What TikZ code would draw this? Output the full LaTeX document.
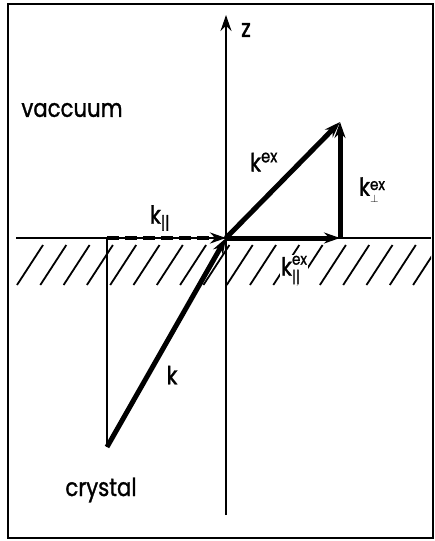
\documentclass[tikz,border=0pt]{standalone}
\usepackage{fontspec}
\setmainfont{Poppins}[FakeStretch=0.85, FakeBold=1.2]
\usetikzlibrary{arrows.meta}
\newcommand{\kvec}[2]{k\raisebox{-7pt}{\fontsize{16}{16}\selectfont\shortstack[l]{#1\\[2pt]#2}}}
\begin{document}
\begin{tikzpicture}[>={Stealth[length=16pt,width=11pt]}, x=1pt, y=-1pt, font=\fontsize{25}{30}\selectfont]
\useasboundingbox (0,0) rectangle (435,541);
\draw[line width=2pt] (8,4) rectangle (433,538);
\coordinate (O) at (226,238);
\coordinate (zt) at (226,15);
\coordinate (zb) at (226,515);
\coordinate (L) at (16,238);
\coordinate (R) at (431,238);
\coordinate (A) at (107,238);
\coordinate (B) at (107,447);
\coordinate (P) at (340,238);
\coordinate (Q) at (340,122);
% hatching below the surface
\begin{scope}
\clip (14,240) rectangle (431,288);
\foreach \x in {17,40.3,...,430} \draw[line width=1.8pt] (\x,285) -- ++(26,-40);
\end{scope}
\draw[line width=2.2pt] (L) -- (R);
\draw[line width=2pt,->] (zb) -- (zt);
\draw[line width=2pt] (A) -- (B);
% vectors
\draw[line width=4pt, dash pattern=on 12pt off 6pt, ->] (A) -- (O);
\draw[line width=5pt, ->] (B) -- (O);
\draw[line width=5pt, ->] (O) -- (Q);
\draw[line width=5pt, ->] (O) -- (P);
\draw[line width=5pt, ->] (P) -- (Q);
\node (zlab) at (246,30) {z};
\node (vac) at (72,110) {vaccuum};
\node (cry) at (101,490) {crystal};
\node (klab) at (172,375) {k};
\node (kexlab) at (264,162) {k\textsuperscript{ex}};
\node (kperplab) at (372,190) {\kvec{ex}{$\scriptstyle\perp$}};
\node (kparlab) at (160,218) {k\textsubscript{\textbar\textbar}};
\node[fill=white, inner sep=1pt] (kparexlab) at (294,270) {\kvec{ex}{\textbar\textbar}};
\end{tikzpicture}
\end{document}
